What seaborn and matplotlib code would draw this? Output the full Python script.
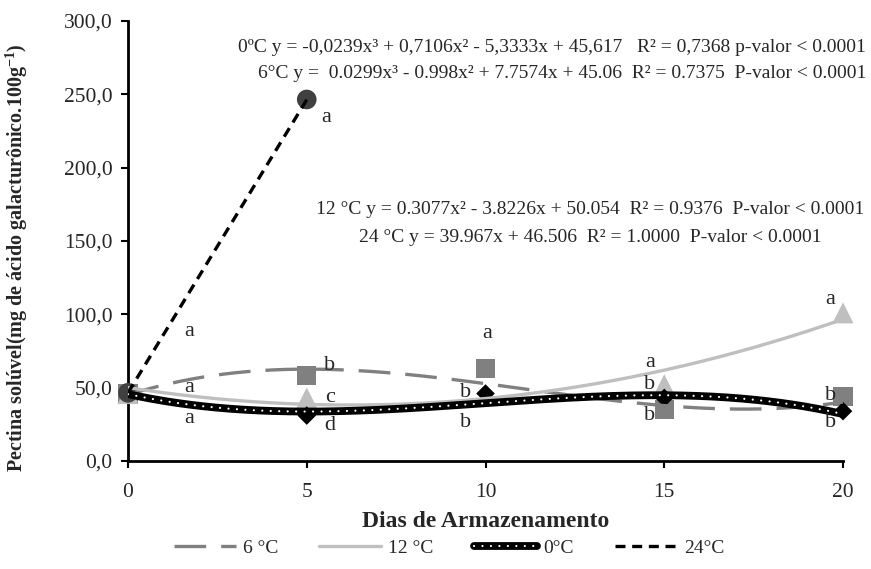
import numpy as np
import pandas as pd
import matplotlib
matplotlib.use("Agg")
import matplotlib.pyplot as plt
from matplotlib.lines import Line2D
from matplotlib.ticker import FuncFormatter
import seaborn as sns

# ---- data -------------------------------------------------------------
days = [0, 5, 10, 15, 20]
pect_0c = [46.0, 31.0, 46.0, 43.0, 34.0]
pect_6c = [46.0, 58.5, 63.0, 35.0, 44.0]
pect_12c = [46.0, 43.0, np.nan, 52.0, 101.0]
days_24c = [0, 5]
pect_24c = [46.5, 246.5]

# trendline coefficients (highest power first)
coef_0c = [-0.0239, 0.7106, -5.3333, 45.617]
coef_6c = [0.0299, -0.998, 7.7574, 45.06]
coef_12c = [0.3077, -3.8226, 50.054]
coef_24c = [39.967, 46.506]

eq_0c = "0ºC y = -0,0239x³ + 0,7106x² - 5,3333x + 45,617   R² = 0,7368 p-valor < 0.0001"
eq_6c = "6°C y =  0.0299x³ - 0.998x² + 7.7574x + 45.06  R² = 0.7375  P-valor < 0.0001"
eq_12c = "12 °C y = 0.3077x² - 3.8226x + 50.054  R² = 0.9376  P-valor < 0.0001"
eq_24c = "24 °C y = 39.967x + 46.506  R² = 1.0000  P-valor < 0.0001"

# significance letters: (day position, value position, letter)
letters = [
    (5.55, 234, "a"),
    (1.7, 88, "a"), (1.7, 50, "a"), (1.7, 29, "a"),
    (5.65, 65, "b"), (5.65, 43.5, "c"), (5.65, 24.5, "d"),
    (10.05, 87, "a"), (9.45, 47, "b"), (9.45, 26, "b"),
    (14.6, 67, "a"), (14.6, 52, "b"), (14.6, 31, "b"),
    (19.65, 110, "a"), (19.65, 45, "b"), (19.65, 26, "b"),
]

y_ticks = [0, 50, 100, 150, 200, 250, 300]
x_ticks = [0, 5, 10, 15, 20]

# ---- style ------------------------------------------------------------
sns.set_theme(style="white")
plt.rcParams["font.family"] = ["Liberation Serif", "DejaVu Serif"]
plt.rcParams["mathtext.fontset"] = "custom"
plt.rcParams["mathtext.rm"] = "Liberation Serif"
plt.rcParams["mathtext.bf"] = "Liberation Serif:bold"

fig = plt.figure(figsize=(8.71, 5.69), dpi=100)
ax = fig.add_axes([128 / 871, 1 - 461 / 569, (843 - 128) / 871, (461 - 21) / 569])

c6, c12, c24 = "#808080", "#bfbfbf", "#404040"

# markers
sns.scatterplot(x=days, y=pect_6c, marker="s", s=190, color=c6, edgecolor="none",
                ax=ax, zorder=3, clip_on=False)
sns.scatterplot(x=days, y=pect_12c, marker="^", s=230, color=c12, edgecolor="none",
                ax=ax, zorder=3, clip_on=False)
sns.scatterplot(x=days, y=pect_0c, marker="D", s=90, color="black", edgecolor="none",
                ax=ax, zorder=3.2, clip_on=False)
sns.scatterplot(x=days_24c, y=pect_24c, marker="o", s=200, color=c24, edgecolor="none",
                ax=ax, zorder=3.3, clip_on=False)

# trendlines from the fitted equations
xs = np.linspace(0, 20, 400)
xs24 = np.linspace(0, 5, 50)
fit = pd.DataFrame({
    "x": xs,
    "t0": np.polyval(coef_0c, xs),
    "t6": np.polyval(coef_6c, xs),
    "t12": np.polyval(coef_12c, xs),
})
fit24 = pd.DataFrame({"x": xs24, "t24": np.polyval(coef_24c, xs24)})

sns.lineplot(data=fit, x="x", y="t6", color=c6, lw=2.4, ax=ax, zorder=4,
             dashes=False).lines[-1].set_dashes((9.5, 4.5))
sns.lineplot(data=fit, x="x", y="t12", color=c12, lw=2.4, ax=ax, zorder=4)
sns.lineplot(data=fit, x="x", y="t0", color="black", lw=5.6, ax=ax, zorder=5)
dot_line = sns.lineplot(data=fit, x="x", y="t0", color="white", lw=1.6, ax=ax,
                        zorder=5.1).lines[-1]
dot_line.set_dashes((0.01, 3.8))
dot_line.set_dash_capstyle("round")
sns.lineplot(data=fit24, x="x", y="t24", color="black", lw=2.4, ax=ax,
             zorder=5.2).lines[-1].set_dashes((3, 2))

# letters
for xd, yv, s in letters:
    ax.text(xd, yv, s, fontsize=16, ha="center", va="center", zorder=6)

# equations
eq_fs = 14
ax.text(866 / 871, 1 - 48 / 569, eq_0c, transform=fig.transFigure, fontsize=eq_fs,
        ha="right", va="center")
ax.text(866 / 871, 1 - 73 / 569, eq_6c, transform=fig.transFigure, fontsize=eq_fs,
        ha="right", va="center")
ax.text(590 / 871, 1 - 209 / 569, eq_12c, transform=fig.transFigure, fontsize=eq_fs,
        ha="center", va="center")
ax.text(590 / 871, 1 - 238 / 569, eq_24c, transform=fig.transFigure, fontsize=eq_fs,
        ha="center", va="center")

# axes
ax.set_xlim(0, 20)
ax.set_ylim(0, 300)
ax.set_xticks(x_ticks)
ax.set_yticks(y_ticks)
ax.yaxis.set_major_formatter(FuncFormatter(lambda v, p: f"{v:.1f}".replace(".", ",")))
ax.tick_params(axis="both", which="major", direction="out", length=5, width=1.5,
               labelsize=15.5, color="black", pad=6, left=True, bottom=True)
ax.tick_params(axis="x", pad=11)
for side in ("top", "right"):
    ax.spines[side].set_visible(False)
for side in ("left", "bottom"):
    ax.spines[side].set_color("black")
    ax.spines[side].set_linewidth(2)
ax.grid(False)

ax.set_xlabel("Dias de Armazenamento", fontsize=17, fontweight="bold", labelpad=6)
fig.text(17 / 871, 1 - 258 / 569,
         r"Pectina solúvel(mg de ácido galacturônico.100g$\mathbf{^{-1}}$)",
         rotation=90, fontsize=14.5, fontweight="bold", ha="center", va="center")
ax.set_ylabel("")

# legend (lines only)
h6 = Line2D([], [], color=c6, lw=2.4, dashes=(9.5, 4.5))
h12 = Line2D([], [], color=c12, lw=2.4)
h0a = Line2D([], [], color="black", lw=5.6)
h0b = Line2D([], [], color="white", lw=1.6, dashes=(0.01, 3.8), dash_capstyle="round")
h24 = Line2D([], [], color="black", lw=2.4, dashes=(3, 2))
fig.legend([h6, h12, (h0a, h0b), h24], ["6 °C", "12 °C", "0°C", "24°C"],
           loc="center", bbox_to_anchor=(449 / 871, 1 - 548 / 569), ncol=4,
           frameon=False, fontsize=14, handlelength=3.2, handletextpad=0.35,
           columnspacing=2.1)

fig.savefig("out.png", dpi=100)
